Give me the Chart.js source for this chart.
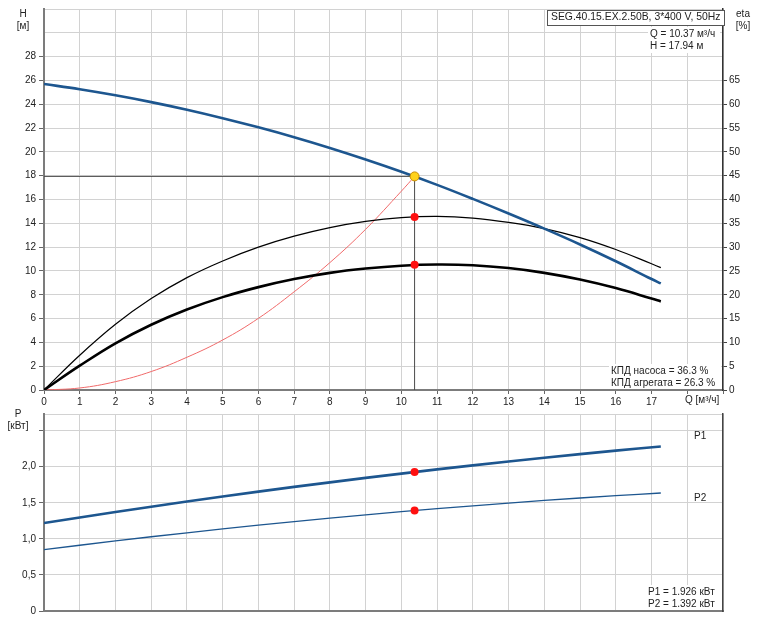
<!DOCTYPE html>
<html><head><meta charset="utf-8">
<script src="https://cdn.jsdelivr.net/npm/chart.js@4.4.0/dist/chart.umd.min.js"></script>
<style>
html,body{margin:0;padding:0;background:#fff;width:760px;height:620px;overflow:hidden}
#c1{position:absolute;left:0;top:0}
#c2{position:absolute;left:0;top:405px}
</style></head><body>
<canvas id="c1" width="760" height="409"></canvas>
<canvas id="c2" width="760" height="215"></canvas>
<script>
// ---- data ----
const qH    = [0, 1, 2, 3, 4, 5, 6, 7, 8, 9, 10, 11, 12, 13, 14, 15, 16, 17, 17.26];
const hVals = [25.7, 25.26, 24.75, 24.18, 23.54, 22.83, 22.06, 21.23, 20.33, 19.36, 18.33, 17.23, 16.05, 14.82, 13.55, 12.22, 10.81, 9.32, 8.95];

const qEta    = [0, 1, 2, 3, 4, 5, 6, 7, 8, 9, 10, 11, 12, 13, 14, 15, 16, 17, 17.26];
const etaPump = [0, 7.3, 13.8, 19.2, 23.6, 27.1, 30.0, 32.3, 34.1, 35.4, 36.2, 36.45, 36.1, 35.2, 33.9, 32.0, 29.5, 26.5, 25.7];
const etaAgg  = [0, 5.1, 9.8, 13.7, 16.9, 19.5, 21.6, 23.3, 24.6, 25.5, 26.1, 26.35, 26.2, 25.6, 24.6, 23.2, 21.4, 19.2, 18.6];

const qSys = [0, 1, 2, 3, 4, 5, 6, 7, 8, 9, 10, 10.37];
const hSys = [0, 0.17, 0.7, 1.55, 2.75, 4.2, 6.02, 8.25, 10.7, 13.5, 16.7, 17.94];

const qP     = [0, 2, 4, 6, 8, 10, 12, 14, 16, 17.26];
const p1Vals = [1.22, 1.372, 1.517, 1.654, 1.783, 1.904, 2.018, 2.124, 2.222, 2.28];
const p2Vals = [0.85, 0.971, 1.084, 1.189, 1.287, 1.376, 1.458, 1.532, 1.598, 1.635];

const dutyQ = 10.37, dutyH = 17.94, dutyEtaPump = 36.3, dutyEtaAgg = 26.3, dutyP1 = 1.926, dutyP2 = 1.392;
const pumpName = 'SEG.40.15.EX.2.50B, 3*400 V, 50Hz';
const qMax = 19, hMax = 32, hLabelMax = 28, etaMax = 80, etaLabelMax = 65, qLabelMax = 17, pMax = 2.73, pLabelMax = 2.0;

// ---- helpers ----
const pts = (xs, ys) => xs.map((x, i) => ({x, y: ys[i]}));
const FONT = "'Liberation Sans', Arial, sans-serif";
Chart.defaults.font.family = FONT;
Chart.defaults.font.size = 10;
Chart.defaults.color = '#222';
const BLUE = '#1d568f';
const GRID = '#d2d2d2';
const AXIS = '#7c7c7c';

function textPlugin(items, boxes) {
  return {
    id: 'txt',
    afterDraw(chart) {
      const ctx = chart.ctx;
      ctx.save();
      (boxes || []).forEach(b => {
        ctx.fillStyle = '#fff';
        ctx.fillRect(b.x, b.y, b.w, b.h);
        if (b.stroke) { ctx.strokeStyle = b.stroke; ctx.lineWidth = 1; ctx.strokeRect(b.x + 0.5, b.y + 0.5, b.w, b.h); }
      });
      items.forEach(it => {
        ctx.font = (it.size || 10) + 'px ' + FONT;
        ctx.fillStyle = it.color || '#222';
        ctx.textAlign = it.align || 'left';
        ctx.textBaseline = 'middle';
        ctx.fillText(it.t, it.x, it.y);
      });
      ctx.restore();
    }
  };
}

const curve = {pointRadius: 0, tension: 0.4};

// ---- top chart ----
new Chart(document.getElementById('c1'), {
  type: 'line',
  data: {
    datasets: [
      {data: [{x: dutyQ, y: dutyH}], yAxisID: 'y', showLine: false, pointRadius: 4.5, pointBackgroundColor: '#ffd21a', pointBorderColor: '#c88a00', pointBorderWidth: 1},
      {data: [{x: dutyQ, y: dutyEtaPump}, {x: dutyQ, y: dutyEtaAgg}], yAxisID: 'yr', showLine: false, pointRadius: 4, pointBackgroundColor: '#ff1010', pointBorderColor: '#ff1010', pointBorderWidth: 0},
      {data: pts(qH, hVals), yAxisID: 'y', borderColor: BLUE, borderWidth: 2.6, ...curve},
      {data: pts(qEta, etaPump), yAxisID: 'yr', borderColor: '#000', borderWidth: 1.2, ...curve},
      {data: pts(qEta, etaAgg), yAxisID: 'yr', borderColor: '#000', borderWidth: 2.6, ...curve},
      {data: pts(qSys, hSys), yAxisID: 'y', borderColor: '#f06a6a', borderWidth: 1, ...curve},
      {data: [{x: 0, y: dutyH}, {x: dutyQ, y: dutyH}], yAxisID: 'y', borderColor: '#4a4a4a', borderWidth: 1, pointRadius: 0},
      {data: [{x: dutyQ, y: 0}, {x: dutyQ, y: dutyH}], yAxisID: 'y', borderColor: '#4a4a4a', borderWidth: 1, pointRadius: 0}
    ]
  },
  options: {
    responsive: false, animation: false, devicePixelRatio: 1,
    layout: {padding: {top: 9, left: 0, right: 0, bottom: 0}, autoPadding: false},
    plugins: {legend: {display: false}, tooltip: {enabled: false}},
    scales: {
      x: {type: 'linear', min: 0, max: qMax, position: 'bottom',
          ticks: {stepSize: 1, autoSkip: false, maxRotation: 0, padding: 2, callback: v => v <= qLabelMax ? String(v) : ''},
          grid: {color: GRID, lineWidth: 1, tickLength: 4, tickColor: '#666'},
          border: {color: AXIS, width: 2},
          afterFit: s => { s.height = 19; }},
      y: {type: 'linear', min: 0, max: hMax, position: 'left',
          ticks: {stepSize: 2, autoSkip: false, padding: 3, callback: v => v <= hLabelMax ? String(v) : ''},
          grid: {color: GRID, lineWidth: 1, tickLength: 5, tickColor: c => (c.tick && c.tick.value > hLabelMax) ? 'rgba(0,0,0,0)' : '#666'},
          border: {color: AXIS, width: 2},
          afterFit: s => { s.width = 44; }},
      yr: {type: 'linear', min: 0, max: etaMax, position: 'right',
          ticks: {stepSize: 5, autoSkip: false, padding: 2, callback: v => v <= etaLabelMax ? String(v) : ''},
          grid: {drawOnChartArea: false, tickLength: 4, tickColor: c => (c.tick && c.tick.value > etaLabelMax) ? 'rgba(0,0,0,0)' : '#444'},
          border: {color: '#333', width: 1.5},
          afterFit: s => { s.width = 37; }}
    }
  },
  plugins: [textPlugin([
    {t: 'H', x: 23, y: 14, align: 'center'},
    {t: '[м]', x: 23, y: 26.5, align: 'center'},
    {t: 'eta', x: 743, y: 14, align: 'center'},
    {t: '[%]', x: 743, y: 26.5, align: 'center'},
    {t: pumpName, x: 551, y: 17.5, size: 10.4},
    {t: 'Q = ' + dutyQ.toFixed(2) + ' м³/ч', x: 650, y: 34},
    {t: 'H = ' + dutyH.toFixed(2) + ' м', x: 650, y: 46.5},
    {t: 'КПД насоса = ' + dutyEtaPump.toFixed(1) + ' %', x: 611, y: 371},
    {t: 'КПД агрегата = ' + dutyEtaAgg.toFixed(1) + ' %', x: 611, y: 383},
    {t: 'Q [м³/ч]', x: 685, y: 400}
  ], [
    {x: 547, y: 10, w: 177, h: 15, stroke: '#555'},
    {x: 648, y: 27, w: 72, h: 26},
    {x: 609, y: 364, w: 112, h: 25}
  ])]
});

// ---- bottom chart ----
const fmtP = v => v === 0 ? '0' : v.toFixed(1).replace('.', ',');
new Chart(document.getElementById('c2'), {
  type: 'line',
  data: {
    datasets: [
      {data: [{x: dutyQ, y: dutyP1}, {x: dutyQ, y: dutyP2}], showLine: false, pointRadius: 4, pointBackgroundColor: '#ff1010', pointBorderColor: '#ff1010', pointBorderWidth: 0},
      {data: pts(qP, p1Vals), borderColor: BLUE, borderWidth: 2.6, ...curve},
      {data: pts(qP, p2Vals), borderColor: BLUE, borderWidth: 1.3, ...curve}
    ]
  },
  options: {
    responsive: false, animation: false, devicePixelRatio: 1,
    layout: {padding: {top: 4, left: 0, right: 0, bottom: 0}, autoPadding: false},
    plugins: {legend: {display: false}, tooltip: {enabled: false}},
    scales: {
      x: {type: 'linear', min: 0, max: qMax, position: 'bottom',
          ticks: {stepSize: 1, display: false},
          grid: {color: GRID, lineWidth: 1, drawTicks: false},
          border: {color: AXIS, width: 2},
          afterFit: s => { s.height = 9; }},
      y: {type: 'linear', min: 0, max: pMax, position: 'left',
          ticks: {stepSize: 0.5, autoSkip: false, padding: 3, callback: v => v <= pLabelMax + 0.01 ? fmtP(v) : ''},
          grid: {color: GRID, lineWidth: 1, tickLength: 5, tickColor: c => (c.tick && c.tick.value > 2.6) ? 'rgba(0,0,0,0)' : '#666'},
          border: {color: AXIS, width: 2},
          afterFit: s => { s.width = 44; }},
      yr: {type: 'linear', min: 0, max: 1, position: 'right',
          ticks: {display: false},
          grid: {drawOnChartArea: false, drawTicks: false},
          border: {color: '#444', width: 1.5},
          afterFit: s => { s.width = 37; }}
    }
  },
  plugins: [textPlugin([
    {t: 'P', x: 18, y: 9, align: 'center'},
    {t: '[кВт]', x: 18, y: 21, align: 'center'},
    {t: 'P1', x: 694, y: 31},
    {t: 'P2', x: 694, y: 93},
    {t: 'P1 = ' + dutyP1.toFixed(3) + ' кВт', x: 648, y: 187},
    {t: 'P2 = ' + dutyP2.toFixed(3) + ' кВт', x: 648, y: 199}
  ], [
    {x: 646, y: 180, w: 75, h: 25}
  ])]
});
</script>
</body></html>
